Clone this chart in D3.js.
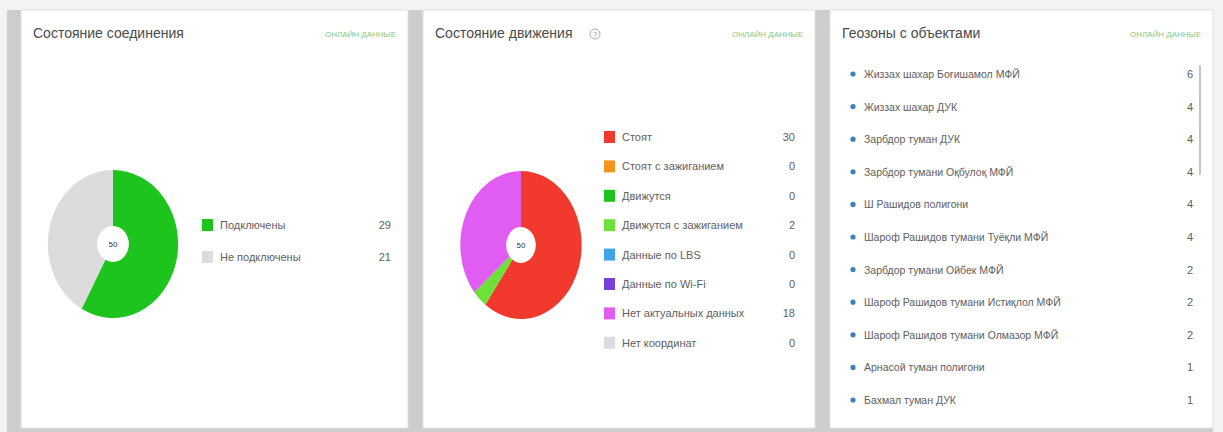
<!DOCTYPE html>
<html>
<head>
<meta charset="utf-8">
<script src="https://cdn.jsdelivr.net/npm/d3@7/dist/d3.min.js"></script>
<style>
  html, body { margin: 0; padding: 0; background: #ffffff; }
  svg { display: block; font-family: "Liberation Sans", Arial, sans-serif; }
</style>
</head>
<body>
<svg id="dash" width="1223" height="432"></svg>
<script>
// Panel titles
const panelTitles = ["Состояние соединения", "Состояние движения", "Геозоны с объектами"];
const onlineLabel = "ОНЛАЙН ДАННЫЕ";

// Connection state
const connLabels = ["Подключены", "Не подключены"];
const connValues = [29, 21];
const connColors = ["#1ec41e", "#dcdcdc"];

// Movement state
const moveLabels = ["Стоят", "Стоят с зажиганием", "Движутся", "Движутся с зажиганием",
                    "Данные по LBS", "Данные по Wi-Fi", "Нет актуальных данных", "Нет координат"];
const moveValues = [30, 0, 0, 2, 0, 0, 18, 0];
const moveColors = ["#f2392e", "#f7941d", "#1ec41e", "#6fe03a", "#3fa3e8", "#7a3fd8", "#e05cf2", "#dcdcdc"];

// Geozones with objects
const zoneNames = ["Жиззах шахар Боғишамол МФЙ", "Жиззах шахар ДУК", "Зарбдор туман ДУК",
                   "Зарбдор тумани Оқбулоқ МФЙ", "Ш Рашидов полигони", "Шароф Рашидов тумани Туёқли МФЙ",
                   "Зарбдор тумани Ойбек МФЙ", "Шароф Рашидов тумани Истиқлол МФЙ",
                   "Шароф Рашидов тумани Олмазор МФЙ", "Арнасой туман полигони", "Бахмал туман ДУК"];
const zoneCounts = [6, 4, 4, 4, 4, 4, 2, 2, 2, 1, 1];

const svg = d3.select("#dash");
const W = 1223, H = 432;

// page background and gutters
svg.append("rect").attr("width", W).attr("height", H).attr("fill", "#f3f3f3");
svg.append("rect").attr("x", 7).attr("y", 10).attr("width", 1206).attr("height", H - 10).attr("fill", "#cdcdcd");

const panels = [
  {x: 21, w: 387},
  {x: 423, w: 392},
  {x: 830, w: 383}
];
panels.forEach((p, i) => {
  svg.append("rect").attr("x", p.x).attr("y", 10).attr("width", p.w).attr("height", 418)
    .attr("fill", "#ffffff").attr("stroke", "#e2e2e2").attr("stroke-width", 1);
  svg.append("text").attr("x", p.x + 12).attr("y", 38)
    .attr("font-size", 14).attr("fill", "#4a4a4a").text(panelTitles[i]);
  svg.append("text").attr("x", p.x + p.w - 12).attr("y", 37)
    .attr("text-anchor", "end").attr("font-size", 8).attr("fill", "#86c97f")
    .text(onlineLabel);
});

// help icon next to the movement title
const help = svg.append("g").attr("transform", "translate(595,34)");
help.append("circle").attr("r", 5).attr("fill", "none").attr("stroke", "#aaaaaa").attr("stroke-width", 1);
help.append("text").attr("y", 3).attr("text-anchor", "middle").attr("font-size", 8).attr("fill", "#999").text("?");

const pie = d3.pie().sort(null).value(d => d);

function donut(cx, cy, values, colors, sx) {
  const g = svg.append("g").attr("transform", `translate(${cx},${cy}) scale(${sx},1)`);
  const arc = d3.arc().innerRadius(18).outerRadius(74);
  g.selectAll("path").data(pie(values)).join("path")
    .attr("d", arc).attr("fill", (d, i) => colors[i]);
  svg.append("text").attr("x", cx).attr("y", cy + 3).attr("text-anchor", "middle")
    .attr("font-size", 8).attr("fill", "#333").text(d3.sum(values));
}

function legend(x, valueX, y0, step, labels, values, colors) {
  const y = d3.scalePoint().domain(d3.range(labels.length)).range([y0, y0 + step * (labels.length - 1)]);
  const g = svg.append("g");
  const rows = g.selectAll("g").data(labels).join("g")
    .attr("transform", (d, i) => `translate(0,${y(i)})`);
  rows.append("rect").attr("x", x).attr("y", -6).attr("width", 11).attr("height", 12)
    .attr("fill", (d, i) => colors[i]);
  rows.append("text").attr("x", x + 18).attr("y", 4).attr("font-size", 11).attr("fill", "#606060")
    .text(d => d);
  rows.append("text").attr("x", valueX).attr("y", 4).attr("text-anchor", "end")
    .attr("font-size", 11).attr("fill", "#606060").text((d, i) => values[i]);
}

donut(113, 244, connValues, connColors, 0.88);
legend(202, 391, 225, 32, connLabels, connValues, connColors);

donut(521, 245, moveValues, moveColors, 0.82);
legend(604, 795, 137, 29.4, moveLabels, moveValues, moveColors);

// geozone list
const yz = d3.scalePoint().domain(d3.range(zoneNames.length)).range([74, 400]);
const zl = svg.append("g");
const zr = zl.selectAll("g").data(zoneNames).join("g").attr("transform", (d, i) => `translate(0,${yz(i)})`);
zr.append("circle").attr("cx", 853).attr("cy", 0).attr("r", 2.6).attr("fill", "#3f7fbf");
zr.append("text").attr("x", 864).attr("y", 4).attr("font-size", 10.5).attr("fill", "#606060").text(d => d);
zr.append("text").attr("x", 1193).attr("y", 4).attr("text-anchor", "end").attr("font-size", 11)
  .attr("fill", "#606060").text((d, i) => zoneCounts[i]);

// scrollbar
svg.append("rect").attr("x", 1199).attr("y", 65).attr("width", 2).attr("height", 110).attr("fill", "#c4c4c4");
</script>
</body>
</html>
